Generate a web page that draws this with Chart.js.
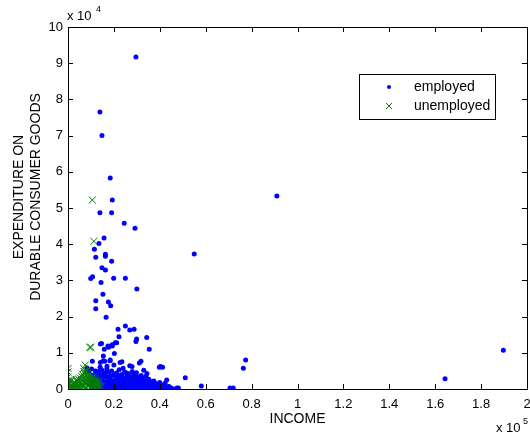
<!DOCTYPE html>
<html>
<head>
<meta charset="utf-8">
<style>
  body { margin: 0; background: #fff; }
  canvas { display: block; }
</style>
</head>
<body>
<canvas id="durablesChart" width="530" height="437"></canvas>

<script src="https://cdn.jsdelivr.net/npm/chart.js"></script>

<script>
    // values (income, expenditure)
    const seriesNames = ['employed', 'unemployed'];
    const xTitle = 'INCOME';
    const yTitle = ['EXPENDITURE ON', 'DURABLE CONSUMER GOODS'];

    const employedIncome = [
        29600, 13900, 14800, 18400, 19300, 13900, 19000, 24500, 29200, 15700,
        13500, 11500, 55000, 91000, 16300, 16300, 12100, 19000, 14800, 16300,
        9900, 10700, 19900, 25000, 14400, 30000, 15200, 12100, 17600, 18600,
        12100, 16600, 21800, 25000, 26900, 28800, 22200, 29900, 29600, 34300,
        35400, 14100, 14600, 17700, 19300, 21200, 20200, 15400, 15400, 10600,
        18300, 22700, 31100, 31800, 26900, 39800, 41200, 77400, 76400, 51100,
        58100, 70600, 72000, 43000, 42300, 43700, 45200, 46600, 48100, 36500,
        37900, 39300, 40800, 164300, 189700, 15800, 17400, 19200, 20600, 14100,
        16000, 18400, 23500, 27900, 33000, 34400, 40200, 47500, 8300, 9000,
        9500, 10000, 10200, 10500, 10800, 11000, 11300, 11600, 11900, 12200,
        12500, 12800, 13000, 13300, 13600, 13900, 14200, 14500, 14800, 15100,
        15400, 15700, 16000, 16300, 16600, 16900, 17200, 17500, 17800, 18100,
        18400, 18700, 19000, 19300, 19600, 19900, 20200, 20500, 20800, 21100,
        21400, 21700, 22000, 22300, 22600, 22900, 23200, 23500, 23800, 24100,
        24400, 24700, 25000, 25300, 25600, 25900, 26200, 26500, 26800, 27100,
        27400, 27700, 28000, 28300, 28600, 28900, 29200, 29500, 29800, 30100,
        30400, 30700, 31000, 31300, 31600, 31900, 32200, 32500, 32800, 33100,
        33400, 33700, 34000, 34300, 34600, 34900, 35200, 35500, 35800, 36100,
        36400, 36700, 37000, 37400, 37800, 38200, 38600, 39000, 39500, 40000,
        40500, 41000, 41500, 42000, 43000, 44000, 45000, 12000, 13500, 15000,
        16500, 18000, 19500, 21000, 22500, 24000, 26000, 27500, 29000, 31500,
        33000, 35000, 10500, 11500, 12500, 13500, 14500, 15500, 16500, 17500,
        18500, 19500, 20500, 21500, 22500, 23500, 24500, 25500, 26500, 27500,
        28500, 29500, 30500, 32000, 34000, 36000, 38000, 41000, 14000, 17000,
        20000, 24000, 28000, 12000, 10300
    ];
    const employedExpend = [
        91700, 76500, 70000, 58300, 52200, 48700, 48700, 45800, 44400, 41700,
        40200, 38600, 37300, 53300, 37200, 36700, 36400, 35300, 33500, 32900,
        30500, 31000, 30600, 30600, 29400, 27600, 26200, 24400, 24000, 23000,
        22200, 19800, 16500, 17400, 16300, 16500, 14400, 13800, 13100, 14200,
        11000, 12400, 12600, 11500, 11900, 12800, 9800, 9100, 7800, 7700,
        7800, 7300, 7200, 7700, 6400, 6000, 6000, 8000, 5700, 3100,
        800, 300, 300, 2500, 1600, 600, 0, 0, 300, 800,
        300, 600, 0, 2800, 10700, 11000, 11900, 12200, 12800, 7300,
        7700, 8000, 7500, 6200, 5200, 4300, 6200, 300, 5800, 4800,
        1200, 2500, 600, 3800, 1500, 200, 3000, 900, 4200, 2000,
        300, 3300, 1100, 4800, 2400, 500, 3600, 1600, 5200, 2800,
        900, 4300, 200, 1900, 3400, 5500, 1200, 2600, 4600, 400,
        3100, 1700, 5000, 800, 2300, 3900, 100, 1400, 2900, 4400,
        600, 2000, 3500, 5300, 1000, 2500, 200, 4000, 1600, 3000,
        700, 4700, 2100, 300, 3500, 1200, 2600, 4200, 500, 1800,
        3200, 900, 2300, 100, 3800, 1500, 2800, 600, 4500, 2000,
        300, 3300, 1100, 2400, 800, 3700, 1700, 200, 2900, 1300,
        500, 2200, 3500, 900, 1800, 100, 2700, 1200, 500, 2000,
        1400, 300, 1000, 2200, 600, 1600, 200, 1100, 500, 1800,
        100, 900, 400, 1200, 200, 700, 300, 100, 1500, 3800,
        600, 2100, 1000, 300, 3700, 1300, 500, 2600, 1000, 400,
        1800, 700, 300, 2100, 3700, 4000, 2500, 600, 4500, 1200,
        3600, 100, 4000, 2600, 600, 2900, 1900, 4400, 1200, 200,
        2100, 3400, 1500, 2600, 1300, 700, 1000, 200, 6000, 6300,
        6600, 5700, 4800, 5000, 5500
    ];

    const unemployedIncome = [
        0, 0, 0, 0, 0, 0, 500, 1000, 1500, 2000,
        2500, 3000, 3500, 4000, 4500, 5000, 5500, 6000, 6500, 7000,
        7500, 6800, 7500, 7900, 8000, 8500, 9000, 9500, 10000, 10500,
        11000, 11500, 12000, 12500, 13000, 13500, 9500, 10000, 10600, 11300,
        8000, 7200, 6200, 8800, 9300, 9800, 10200, 10800, 11200, 11800,
        12400, 12900, 13400, 14000, 14500, 3000, 4800, 5800, 2200, 1200,
        600, 300, 8300, 9100, 7700, 6600, 5200, 4200, 3700, 1000,
        1800, 2400, 3200, 3900, 4400, 5100, 5600, 6300, 6900, 7300,
        7800, 8200, 8700, 9200, 9700, 10300, 10900, 11500, 12100, 12700,
        13200, 13800, 7000, 8500, 6400, 5400, 4600, 3400, 2600
    ];
    const unemployedExpend = [
        5700, 4700, 3300, 2000, 1000, 300, 1500, 500, 2500, 800,
        200, 1800, 1100, 400, 2800, 1500, 600, 3400, 2100, 900,
        6600, 5700, 4700, 3900, 2600, 1300, 3100, 300, 2200, 1000,
        2900, 1700, 500, 1200, 2000, 700, 11500, 11500, 52200, 40800,
        5000, 4200, 2600, 3600, 2700, 1500, 3200, 2400, 800, 1300,
        2300, 600, 1500, 300, 800, 300, 700, 1200, 1300, 900,
        2500, 600, 1800, 900, 1400, 500, 2300, 1900, 2600, 2000,
        300, 1600, 800, 2200, 1000, 300, 1800, 1000, 2900, 1900,
        600, 3000, 2100, 1100, 3700, 1800, 3300, 600, 2800, 1800,
        1000, 2300, 4800, 4300, 3900, 3000, 400, 1500, 1100
    ];

    const xTickValues = [0, 20000, 40000, 60000, 80000, 100000, 120000, 140000, 160000, 180000, 200000];
    const yTickValues = [0, 10000, 20000, 30000, 40000, 50000, 60000, 70000, 80000, 90000, 100000];

    const toPoints = (xs, ys) => xs.map((x, i) => ({ x: x, y: ys[i] }));

    const fontFamily = '"Liberation Sans", Arial, sans-serif';
    const blue = '#0000ff';
    const green = '#008000';

    // MATLAB style box, inward ticks, exponent labels, y title and legend
    const matlabBox = {
        id: 'matlabBox',
        afterLayout(chart) {
            // pin the right edge of the axes box like the original figure
            const right = chart.width - 3;
            const xs = chart.scales.x;
            xs.right = right;
            xs.width = right - xs.left;
            xs.configure();
            chart.chartArea.right = right;
            chart.chartArea.width = right - chart.chartArea.left;
        },
        beforeDraw(chart) {
            const c = chart.ctx;
            c.save();
            c.fillStyle = '#fff';
            c.fillRect(0, 0, chart.width, chart.height);
            c.restore();
        },
        afterDraw(chart) {
            const c = chart.ctx;
            const a = chart.chartArea;
            const xs = chart.scales.x, ys = chart.scales.y;
            c.save();
            c.strokeStyle = '#000';
            c.lineWidth = 1;
            c.strokeRect(Math.round(a.left) + 0.5, Math.round(a.top) + 0.5,
                Math.round(a.right - a.left), Math.round(a.bottom - a.top));
            c.beginPath();
            xTickValues.forEach(v => {
                const px = Math.round(xs.getPixelForValue(v)) + 0.5;
                c.moveTo(px, a.bottom); c.lineTo(px, a.bottom - 5);
                c.moveTo(px, a.top); c.lineTo(px, a.top + 5);
            });
            yTickValues.forEach(v => {
                const py = Math.round(ys.getPixelForValue(v)) + 0.5;
                c.moveTo(a.left, py); c.lineTo(a.left + 5, py);
                c.moveTo(a.right, py); c.lineTo(a.right - 5, py);
            });
            c.stroke();

            c.fillStyle = '#000';
            c.textBaseline = 'middle';

            // y axis title, two lines
            c.save();
            c.font = '14px ' + fontFamily;
            c.textAlign = 'center';
            c.translate(19, 197);
            c.rotate(-Math.PI / 2);
            c.fillText(yTitle[0], 0, 0);
            c.fillText(yTitle[1], 0, 17);
            c.restore();

            // exponent labels
            c.textAlign = 'left';
            c.font = '13px ' + fontFamily;
            c.fillText('x 10', 67, 16);
            c.fillText('x 10', 496, 428);
            c.font = '9px ' + fontFamily;
            c.fillText('4', 96, 10);
            c.fillText('5', 523, 422);

            // legend
            c.fillStyle = '#fff';
            c.fillRect(359, 74, 136, 45);
            c.strokeRect(359.5, 74.5, 136, 45);
            c.fillStyle = blue;
            c.beginPath();
            c.arc(389, 87, 2, 0, Math.PI * 2);
            c.fill();
            c.strokeStyle = green;
            c.beginPath();
            c.moveTo(386, 103); c.lineTo(392, 109);
            c.moveTo(392, 103); c.lineTo(386, 109);
            c.stroke();
            c.fillStyle = '#000';
            c.font = '14px ' + fontFamily;
            c.fillText(seriesNames[0], 414, 87);
            c.fillText(seriesNames[1], 414, 106);
            c.restore();
        }
    };

    const ctx = document.getElementById('durablesChart').getContext('2d');
    const durablesChart = new Chart(ctx, {
        type: 'scatter',
        data: {
            datasets: [{
                label: seriesNames[0],
                data: toPoints(employedIncome, employedExpend),
                pointStyle: 'circle',
                pointRadius: 2.5,
                backgroundColor: blue,
                borderColor: blue,
                borderWidth: 0,
                order: 2
            }, {
                label: seriesNames[1],
                data: toPoints(unemployedIncome, unemployedExpend),
                pointStyle: 'crossRot',
                pointRadius: 5,
                backgroundColor: green,
                borderColor: green,
                borderWidth: 1,
                order: 1
            }]
        },
        options: {
            responsive: false,
            animation: false,
            layout: { padding: { top: 27, right: 3, left: 0, bottom: 0 } },
            plugins: {
                legend: { display: false },
                tooltip: { enabled: false }
            },
            scales: {
                x: {
                    type: 'linear',
                    min: 0,
                    max: 200000,
                    afterBuildTicks: s => { s.ticks = xTickValues.map(v => ({ value: v })); },
                    afterFit: s => { s.height = 48; s.paddingLeft = 0; s.paddingRight = 0; },
                    grid: { display: false, drawTicks: false },
                    border: { display: false },
                    ticks: {
                        callback: v => String(+(v / 100000).toFixed(1)),
                        color: '#000',
                        font: { family: fontFamily, size: 13 },
                        padding: 8,
                        maxRotation: 0,
                        autoSkip: false
                    },
                    title: {
                        display: true,
                        text: xTitle,
                        color: '#000',
                        font: { family: fontFamily, size: 14 },
                        padding: { top: 0, bottom: 9 }
                    }
                },
                y: {
                    type: 'linear',
                    min: 0,
                    max: 100000,
                    afterBuildTicks: s => { s.ticks = yTickValues.map(v => ({ value: v })); },
                    afterFit: s => { s.width = 68; s.paddingTop = 0; s.paddingBottom = 0; },
                    grid: { display: false, drawTicks: false },
                    border: { display: false },
                    ticks: {
                        callback: v => String(v / 10000),
                        color: '#000',
                        font: { family: fontFamily, size: 13 },
                        padding: 5,
                        autoSkip: false
                    }
                }
            }
        },
        plugins: [matlabBox]
    });
</script>
</body>
</html>
